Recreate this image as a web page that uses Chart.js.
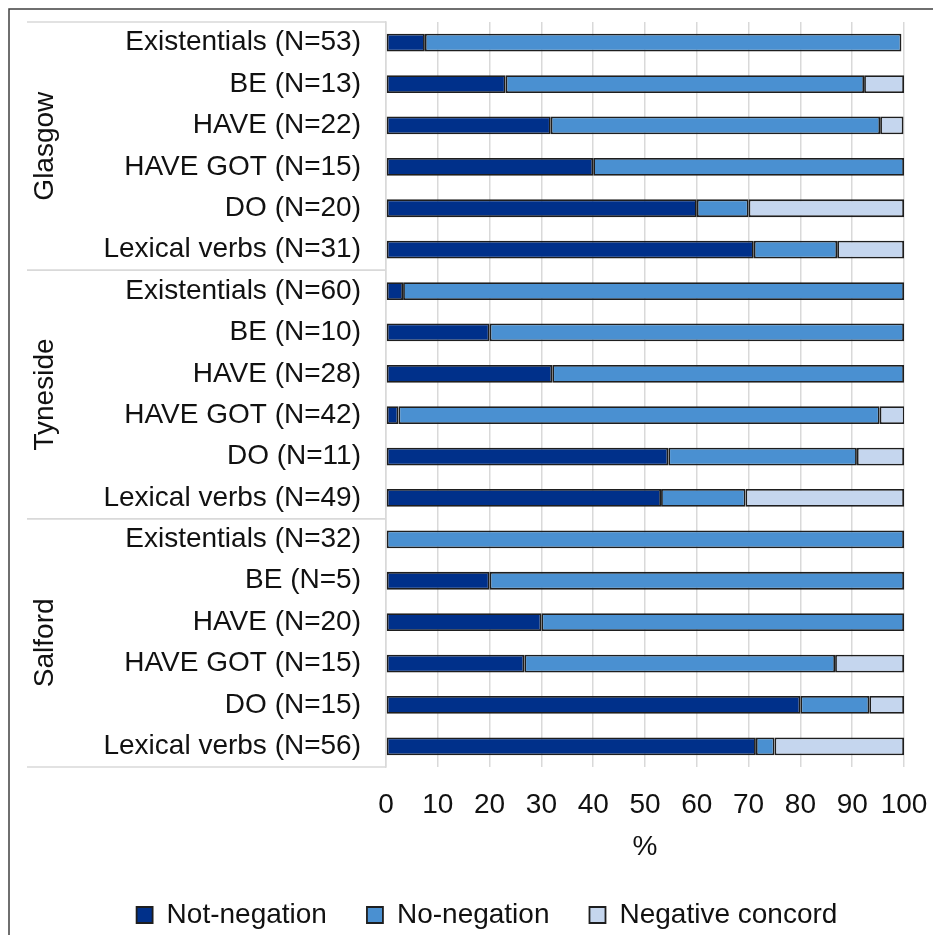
<!DOCTYPE html>
<html>
<head>
<meta charset="utf-8">
<script src="https://cdn.jsdelivr.net/npm/chart.js@4.4.1/dist/chart.umd.min.js"></script>
<style>
  html, body { margin: 0; padding: 0; background: #fff; overflow: hidden; }
  #wrap { position: relative; width: 933px; height: 939px; }
</style>
</head>
<body>
<div id="wrap"><canvas id="chart"></canvas></div>
<script>
// --- data ---
const regions = ['Glasgow', 'Tyneside', 'Salford'];
const verbs = ['Existentials', 'BE', 'HAVE', 'HAVE GOT', 'DO', 'Lexical verbs'];
const counts = [53, 13, 22, 15, 20, 31, 60, 10, 28, 42, 11, 49, 32, 5, 20, 15, 15, 56];
const notNegation = [7.5, 23.1, 31.8, 40.0, 60.0, 71.0, 3.3, 20.0, 32.1, 2.4, 54.5, 53.1, 0, 20.0, 30.0, 26.7, 80.0, 71.4];
const noNegation = [92.0, 69.2, 63.6, 60.0, 10.0, 16.1, 96.7, 80.0, 67.9, 92.9, 36.4, 16.3, 100, 80.0, 70.0, 60.0, 13.3, 3.6];
const negativeConcord = [0, 7.7, 4.5, 0, 30.0, 12.9, 0, 0, 0, 4.8, 9.1, 30.6, 0, 0, 0, 13.3, 6.7, 25.0];
const xTicks = [0, 10, 20, 30, 40, 50, 60, 70, 80, 90, 100];

const categories = counts.map((n, i) => `${verbs[i % verbs.length]} (N=${n})`);

const FONT = "'Liberation Sans', Arial, sans-serif";
const TEXT = '#111';
const GRID = '#d9d9d9';

// region labels, separators and the outer frame
const groupAxis = {
    id: 'groupAxis',
    afterDraw(chart) {
        const { ctx, chartArea, scales: { y } } = chart;
        const per = verbs.length;
        const step = y.getPixelForValue(1) - y.getPixelForValue(0);
        ctx.save();
        ctx.strokeStyle = '#404040';
        ctx.lineWidth = 1.5;
        ctx.beginPath();
        ctx.moveTo(9, chart.height);
        ctx.lineTo(9, 9);
        ctx.lineTo(chart.width, 9);
        ctx.stroke();

        ctx.strokeStyle = GRID;
        ctx.lineWidth = 1.5;
        ctx.fillStyle = TEXT;
        ctx.font = `28px ${FONT}`;
        ctx.textAlign = 'center';
        ctx.textBaseline = 'middle';
        regions.forEach((name, g) => {
            const top = y.getPixelForValue(g * per) - step / 2;
            const bottom = y.getPixelForValue(g * per + per - 1) + step / 2;
            ctx.beginPath();
            ctx.moveTo(27, top);
            ctx.lineTo(chartArea.left, top);
            ctx.moveTo(27, bottom);
            ctx.lineTo(chartArea.left, bottom);
            ctx.stroke();
            ctx.save();
            ctx.translate(45, (top + bottom) / 2);
            ctx.rotate(-Math.PI / 2);
            ctx.fillText(name, 0, 0);
            ctx.restore();
        });
        ctx.restore();
    }
};

const barStyle = { borderColor: '#1e1e1e', borderWidth: 1.8, borderSkipped: false, barPercentage: 1, categoryPercentage: 0.43 };

new Chart(document.getElementById('chart'), {
    type: 'bar',
    data: {
        labels: categories,
        datasets: [
            { label: 'Not-negation', data: notNegation, backgroundColor: '#00308a', ...barStyle },
            { label: 'No-negation', data: noNegation, backgroundColor: '#4a90d1', ...barStyle },
            { label: 'Negative concord', data: negativeConcord, backgroundColor: '#c5d6ee', ...barStyle }
        ]
    },
    options: {
        indexAxis: 'y',
        responsive: true,
        maintainAspectRatio: false,
        animation: false,
        layout: { padding: { left: 70, right: 29, top: 22, bottom: 0 } },
        scales: {
            x: {
                stacked: true,
                min: 0, max: 100,
                afterBuildTicks: (scale) => { scale.ticks = xTicks.map(v => ({ value: v })); },
                afterFit: (scale) => { scale.height = 94; },
                ticks: { color: TEXT, font: { family: FONT, size: 28 }, padding: 0, maxRotation: 0, autoSkip: false },
                grid: { color: GRID, lineWidth: 1.5, drawTicks: true, tickLength: 21, tickColor: 'transparent' },
                border: { display: false },
                title: { display: true, text: '%', color: TEXT, font: { family: FONT, size: 28 }, padding: { top: 0, bottom: -3 } }
            },
            y: {
                stacked: true,
                afterFit: (scale) => { scale.width = 316; },
                ticks: { color: TEXT, font: { family: FONT, size: 28 }, padding: 0, autoSkip: false },
                grid: { display: true, color: 'transparent', drawTicks: true, tickLength: 25, tickColor: 'transparent' },
                border: { display: true, color: GRID, width: 1.5 }
            }
        },
        plugins: {
            legend: {
                position: 'bottom',
                labels: { color: TEXT, font: { family: FONT, size: 28 }, boxWidth: 16, boxHeight: 16, padding: 40 }
            },
            tooltip: { enabled: false }
        }
    },
    plugins: [groupAxis]
});
</script>
</body>
</html>
